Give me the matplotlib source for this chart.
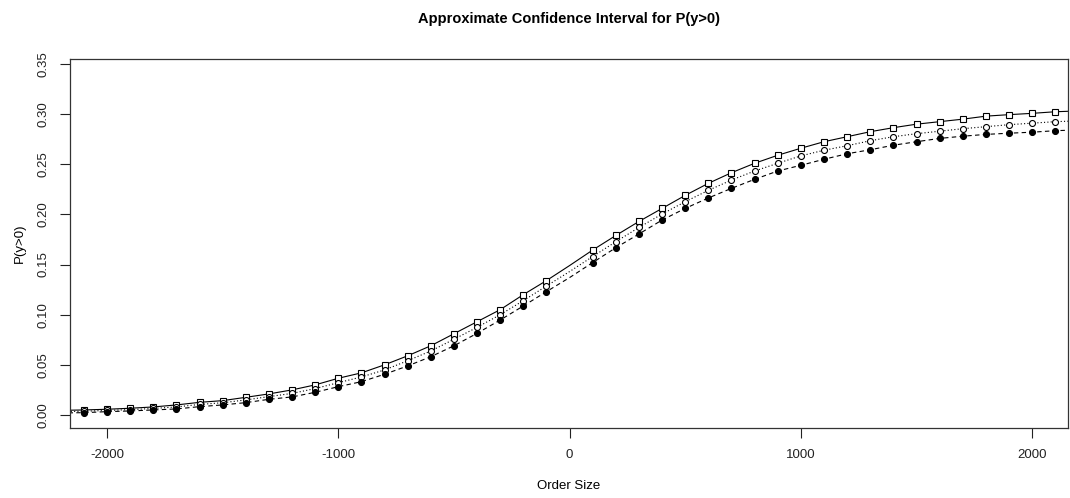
import numpy as np
import matplotlib
matplotlib.use('Agg')
import matplotlib.pyplot as plt

plt.rcParams['font.family'] = ['Liberation Sans', 'DejaVu Sans']
plt.rcParams['axes.unicode_minus'] = False

# точки с маркерами (0 пропущен)
order_size = [-2100, -2000, -1900, -1800, -1700, -1600, -1500, -1400, -1300, -1200, -1100,
              -1000, -900, -800, -700, -600, -500, -400, -300, -200, -100,
              100, 200, 300, 400, 500, 600, 700, 800, 900, 1000,
              1100, 1200, 1300, 1400, 1500, 1600, 1700, 1800, 1900, 2000, 2100]

upper = [0.005, 0.0057, 0.0067, 0.008, 0.010, 0.0126, 0.0143, 0.0176, 0.021, 0.025, 0.030,
         0.0366, 0.042, 0.050, 0.059, 0.069, 0.081, 0.093, 0.105, 0.120, 0.134,
         0.1645, 0.179, 0.193, 0.206, 0.219, 0.231, 0.2416, 0.251, 0.259, 0.266,
         0.2725, 0.2775, 0.2825, 0.2865, 0.290, 0.2925, 0.295, 0.298, 0.2995, 0.3008, 0.3024]

middle = [0.0037, 0.0045, 0.0053, 0.0065, 0.008, 0.0105, 0.0122, 0.015, 0.0183, 0.0215, 0.0263,
          0.0322, 0.0379, 0.0449, 0.0541, 0.0638, 0.0755, 0.0874, 0.100, 0.114, 0.1286,
          0.158, 0.1728, 0.187, 0.2004, 0.2127, 0.224, 0.2343, 0.2433, 0.251, 0.2584,
          0.264, 0.2685, 0.2735, 0.2775, 0.2805, 0.283, 0.2855, 0.2875, 0.2895, 0.291, 0.2925]

lower = [0.0023, 0.0033, 0.004, 0.005, 0.006, 0.0083, 0.010, 0.0123, 0.0156, 0.018, 0.0226,
         0.0282, 0.0332, 0.0406, 0.0489, 0.0581, 0.069, 0.0814, 0.0947, 0.1087, 0.123,
         0.152, 0.1668, 0.1805, 0.1944, 0.206, 0.2164, 0.226, 0.235, 0.2433, 0.249,
         0.255, 0.2605, 0.2645, 0.269, 0.2725, 0.2758, 0.278, 0.2798, 0.281, 0.282, 0.2835]

# линии идут и через 0, и до краёв осей
line_x = [-2200] + order_size[:21] + [0] + order_size[21:] + [2200]
upper_line = [0.0046] + upper[:21] + [0.149] + upper[21:] + [0.3032]
middle_line = [0.0033] + middle[:21] + [0.143] + middle[21:] + [0.2933]
lower_line = [0.002] + lower[:21] + [0.137] + lower[21:] + [0.2843]

fig = plt.figure(figsize=(10.7, 4.98), dpi=100)
ax = fig.add_axes([70 / 1070, 1 - 428 / 498, 998 / 1070, 369 / 498])

ax.plot(line_x, upper_line, color='black', lw=0.8, ls='-')
ax.plot(line_x, middle_line, color='black', lw=0.8, ls=(0, (1, 2)))
ax.plot(line_x, lower_line, color='black', lw=0.8, ls=(0, (4, 3)))

ax.plot(order_size, upper, ls='none', marker='s', ms=5, mfc='white', mec='black', mew=0.8)
ax.plot(order_size, middle, ls='none', marker='o', ms=4.3, mfc='white', mec='black', mew=0.8)
ax.plot(order_size, lower, ls='none', marker='o', ms=4.3, mfc='black', mec='black', mew=0.8)

ax.set_xlim(-2160, 2155)
ax.set_ylim(-0.013, 0.355)
ax.set_xticks([-2000, -1000, 0, 1000, 2000])
ax.set_yticks([0.00, 0.05, 0.10, 0.15, 0.20, 0.25, 0.30, 0.35])
ax.set_yticklabels(['0.00', '0.05', '0.10', '0.15', '0.20', '0.25', '0.30', '0.35'],
                   rotation=90, va='center')
ax.tick_params(direction='out', length=7, width=0.8, labelsize=9.5, pad=8, colors='#222222')
for s in ax.spines.values():
    s.set_linewidth(0.9)
    s.set_color('#333333')

ax.set_xlabel('Order Size', fontsize=9.5, labelpad=14)
ax.set_ylabel('P(y>0)', fontsize=9.5, labelpad=8)
ax.set_title('Approximate Confidence Interval for P(y>0)', fontsize=10.5,
             fontweight='bold', pad=26)

plt.savefig('out.png', dpi=100)
